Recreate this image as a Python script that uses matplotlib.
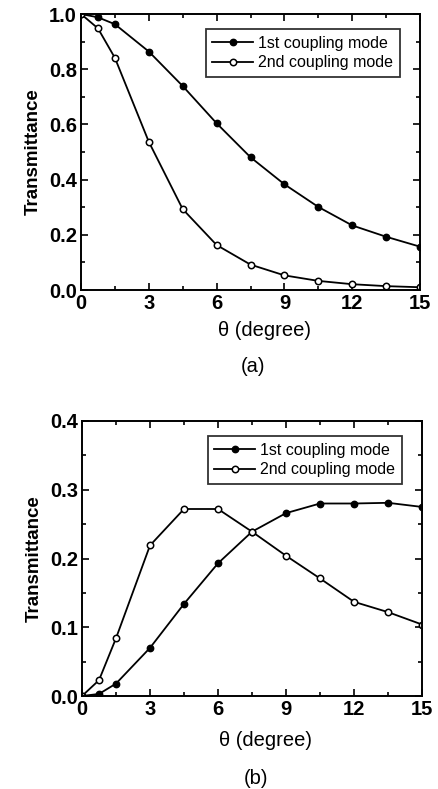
import matplotlib
matplotlib.use("Agg")
import matplotlib.pyplot as plt
from matplotlib.ticker import MultipleLocator

plt.rcParams['font.family'] = ['Liberation Sans', 'DejaVu Sans']

theta = [0, 0.75, 1.5, 3, 4.5, 6, 7.5, 9, 10.5, 12, 13.5, 15]
a_first = [1.0, 0.988, 0.963, 0.864, 0.739, 0.604, 0.481, 0.383, 0.301, 0.234, 0.193, 0.157]
a_second = [1.0, 0.948, 0.841, 0.537, 0.293, 0.163, 0.092, 0.053, 0.033, 0.021, 0.014, 0.010]
b_first = [0.0, 0.003, 0.018, 0.070, 0.134, 0.193, 0.239, 0.266, 0.280, 0.280, 0.281, 0.275]
b_second = [0.0, 0.023, 0.084, 0.219, 0.272, 0.272, 0.239, 0.204, 0.171, 0.137, 0.122, 0.104]
labels = ['1st coupling mode', '2nd coupling mode']

W, H = 438, 789
fig = plt.figure(figsize=(W/100, H/100), dpi=100)

def make_ax(l, r, t, b):
    return fig.add_axes([l/W, 1-b/H, (r-l)/W, (b-t)/H])

ax1 = make_ax(81, 420, 14, 290)
ax2 = make_ax(82, 422, 421, 696)

def style(ax, ys, ymax, ymaj, ymin, xlab_y):
    ax.plot(theta, ys[0], '-o', color='black', lw=1.3, ms=4.6, mfc='black', mec='black', label=labels[0])
    ax.plot(theta, ys[1], '-o', color='black', lw=1.3, ms=4.6, mfc='white', mec='black', mew=1.1, label=labels[1])
    ax.set_xlim(0, 15)
    ax.set_ylim(0, ymax)
    ax.xaxis.set_major_locator(MultipleLocator(3))
    ax.xaxis.set_minor_locator(MultipleLocator(1.5))
    ax.yaxis.set_major_locator(MultipleLocator(ymaj))
    ax.yaxis.set_minor_locator(MultipleLocator(ymin))
    ax.tick_params(which='both', direction='in', top=True, right=True, labelsize=14.5, width=1.2, pad=3)
    ax.tick_params(which='major', length=5)
    ax.tick_params(which='minor', length=3)
    ax.yaxis.set_major_formatter(matplotlib.ticker.FormatStrFormatter('%.1f'))
    for lab in ax.get_xticklabels() + ax.get_yticklabels():
        lab.set_fontweight('bold')
    for s in ax.spines.values():
        s.set_linewidth(1.4)
    ax.set_ylabel('Transmittance', fontsize=13.5, fontweight='bold', labelpad=5)
    ax.set_xlabel('θ (degree)', fontsize=14.5)
    ax.xaxis.set_label_coords(0.54, xlab_y)
    leg = ax.legend(loc='upper right', bbox_to_anchor=(0.94, 0.945), fontsize=11.5, frameon=True, fancybox=False,
                    edgecolor='black', handlelength=2.6, handletextpad=0.3, borderpad=0.4, labelspacing=0.3,
                    borderaxespad=0)
    leg.get_frame().set_linewidth(1.3)

style(ax1, [a_first, a_second], 1.0, 0.2, 0.1, -0.112)
style(ax2, [b_first, b_second], 0.4, 0.1, 0.05, -0.127)

fig.text(253/W, 1-367/H, '(a)', ha='center', va='center', fontsize=14.5)
fig.text(256/W, 1-778/H, '(b)', ha='center', va='center', fontsize=14.5)

fig.savefig('out.png', dpi=100)
